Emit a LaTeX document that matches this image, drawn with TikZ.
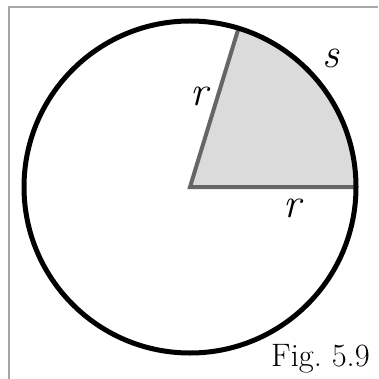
\documentclass[tikz,border=0pt]{standalone}
\usetikzlibrary{calc}
\begin{document}
\begin{tikzpicture}[x=1pt,y=-1pt,
  rimline/.style={line width=5pt,black},
  radline/.style={line width=4pt,draw=black!60,line join=miter},
  sectorfill/.style={fill=black!14},
  framel/.style={line width=1.2pt,draw=black!35},
  lbl/.style={font=\fontsize{42}{44}\selectfont\itshape,inner sep=0pt},
  caption/.style={font=\fontsize{32.5}{34}\selectfont,inner sep=0pt,anchor=base west}]
\useasboundingbox (0,0) rectangle (378,379);
\draw[framel] (9,379) -- (9,7) -- (378,7);
\coordinate (O) at (190,187);
\coordinate (A) at ($(O)+(0:166pt)$);
\coordinate (B) at ($(O)+(73:166pt)$);
\fill[sectorfill] (O) -- (A) arc[start angle=0,end angle=73,radius=166pt] -- cycle;
\draw[radline] (A) -- (O) -- (B);
\draw[rimline] (O) circle[radius=166pt];
\node[lbl] (s) at (331,58) {s};
\node[lbl] (r1) at (199,96) {r};
\node[lbl] (r2) at (292,208) {r};
\node[caption] (fig) at (271,366.7) {Fig.\ 5.9};
\end{tikzpicture}
\end{document}
